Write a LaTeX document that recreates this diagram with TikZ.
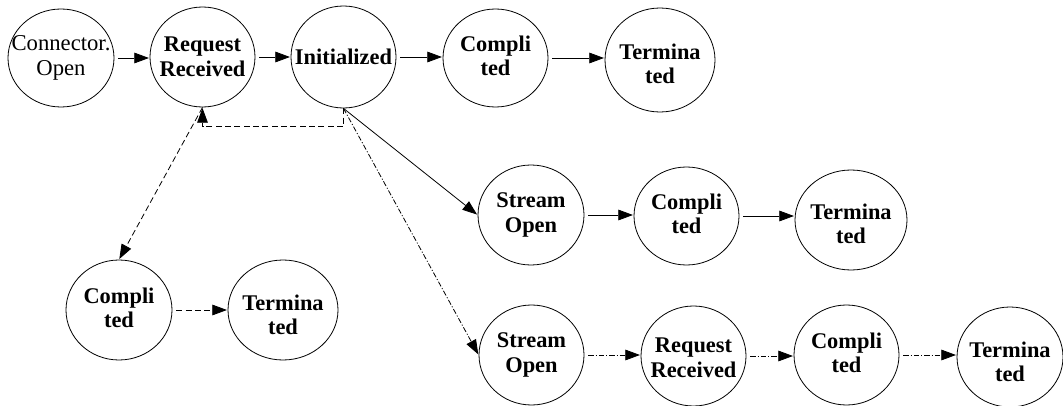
\documentclass[tikz,border=0pt]{standalone}
\usepackage{fontspec}
\setmainfont{Liberation Serif}
\usetikzlibrary{shapes.geometric,arrows.meta}
\begin{document}
\begin{tikzpicture}[x=0.75pt,y=-0.75pt,
  st/.style={draw, ellipse, line width=0.6pt, inner sep=0pt},
  sz/.style 2 args={minimum width=#1*1.5pt, minimum height=#2*1.5pt},
  lbl/.style={font=\bfseries\fontsize{16.8}{18.5}\selectfont, align=center, inner sep=0pt},
  lblr/.style={font=\fontsize{17}{18.5}\selectfont, align=center, inner sep=0pt},
  arr/.style={-{Triangle[length=11pt,width=8pt]}, line width=0.6pt, shorten <=3pt, shorten >=0.5pt},
  dsh/.style={dash pattern=on 4.5pt off 2.5pt},
  ddot/.style={dash pattern=on 4pt off 1.5pt on 0.8pt off 1.5pt}]
\useasboundingbox (0,0) rectangle (1063,406);

% top row
\node[st, sz={53}{49}] (c1) at (61,58) {};
\node[lblr] (c1t) at (c1) {Connector.\\Open};
\node[st, sz={52.5}{50}] (r1) at (202.5,57) {};
\node[lbl] (r1t) at (r1) {Request\\Received};
\node[st, sz={52.5}{51}] (i1) at (343.5,57) {};
\node[lbl] (i1t) at (i1) {Initialized};
\node[st, sz={52.5}{49}] (cp1) at (495.5,58) {};
\node[lbl] (cp1t) at (495.5,56) {Compli\\ted};
\node[st, sz={55}{52}] (t1) at (660,60) {};
\node[lbl] (t1t) at (660,64) {Termina\\ted};

% second row
\node[st, sz={53}{50}] (s2) at (531,215) {};
\node[lbl] (s2t) at (s2) {Stream\\Open};
\node[st, sz={52.5}{49}] (cp2) at (686.5,216) {};
\node[lbl] (cp2t) at (686.5,214) {Compli\\ted};
\node[st, sz={56}{50}] (t2) at (851,220) {};
\node[lbl] (t2t) at (851,224) {Termina\\ted};

% bottom-left
\node[st, sz={53}{50}] (cb) at (119,310) {};
\node[lbl] (cbt) at (119,308) {Compli\\ted};
\node[st, sz={55}{50}] (tb) at (283,310) {};
\node[lbl] (tbt) at (283,315) {Termina\\ted};

% third row
\node[st, sz={52.5}{50}] (s3) at (531.5,355) {};
\node[lbl] (s3t) at (s3) {Stream\\Open};
\node[st, sz={52.5}{50}] (r3) at (693.5,356) {};
\node[lbl] (r3t) at (693.5,358) {Request\\Received};
\node[st, sz={52.5}{50}] (cp3) at (846.5,355) {};
\node[lbl] (cp3t) at (846.5,353) {Compli\\ted};
\node[st, sz={53}{50}] (t3) at (1010,357) {};
\node[lbl] (t3t) at (1010,362) {Termina\\ted};

% top row arrows
\draw[arr] (c1.east) -- (r1.west |- c1.east);
\draw[arr] (r1.east) -- (i1.west |- r1.east);
\draw[arr] (i1.east) -- (cp1.west |- i1.east);
\draw[arr] (cp1.east) -- (t1.west |- cp1.east);

% feedback dashed
\draw[arr, dsh, shorten <=0pt] (i1.south) -- ++(0,18) -| (r1.south);
\draw[arr, dsh, shorten <=0pt] (r1.south) -- (cb.north);
\draw[arr, dsh] (cb.east) -- (tb.west |- cb.east);

% branch to second row
\draw[arr, shorten <=0pt] (i1.south) -- (s2.west);
\draw[arr] (s2.east) -- (cp2.west |- s2.east);
\draw[arr] (cp2.east) -- (t2.west |- cp2.east);

% branch to third row
\draw[arr, ddot, shorten <=0pt] (i1.south) -- (s3.west);
\draw[arr, ddot] (s3.east) -- (r3.west |- s3.east);
\draw[arr, ddot] (r3.east) -- (cp3.west |- r3.east);
\draw[arr, ddot] (cp3.east) -- (t3.west |- cp3.east);
\end{tikzpicture}
\end{document}
